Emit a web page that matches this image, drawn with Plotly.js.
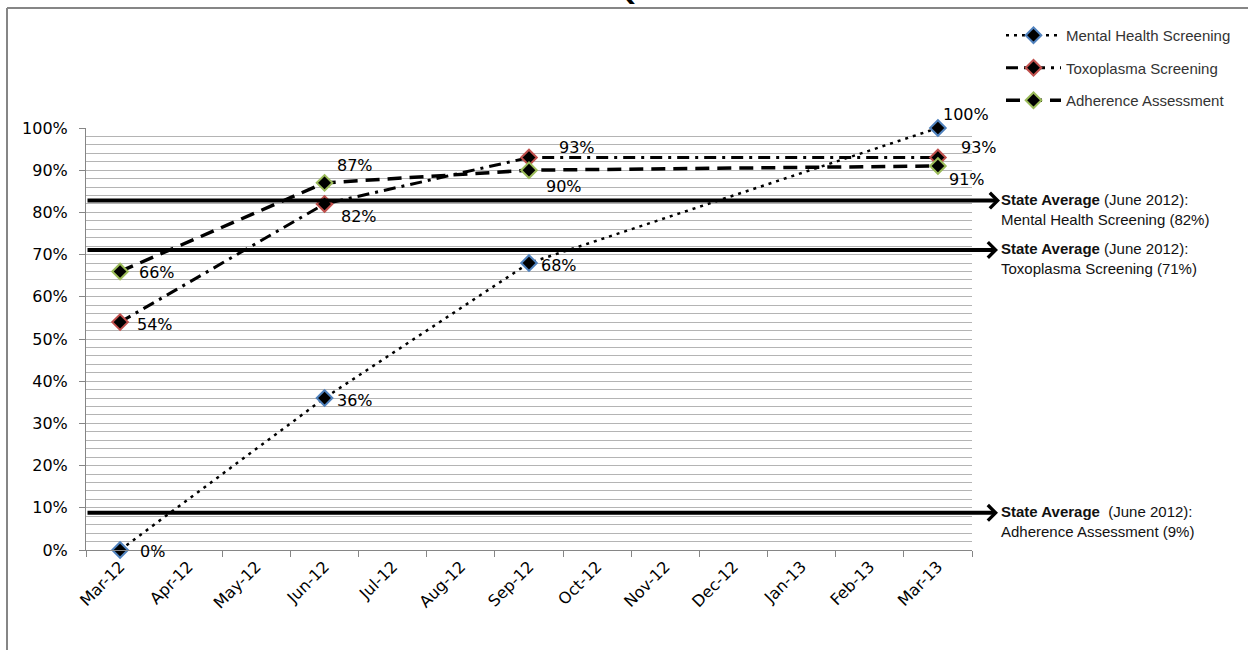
<!DOCTYPE html>
<html>
<head>
<meta charset="utf-8">
<script src="https://cdn.plot.ly/plotly-3.0.1.min.js"></script>
<style>html,body{margin:0;padding:0;background:#fff;}#chart{width:1248px;height:650px;}</style>
</head>
<body>
<div id="chart"></div>
<script>
// ---- data ----
const months = ['Mar-12','Apr-12','May-12','Jun-12','Jul-12','Aug-12','Sep-12','Oct-12','Nov-12','Dec-12','Jan-13','Feb-13','Mar-13'];
const obsMonths = ['Mar-12','Jun-12','Sep-12','Mar-13'];
const mentalHealth = [0, 36, 68, 100];
const toxoplasma = [54, 82, 93, 93];
const adherence = [66, 87, 90, 91];
const seriesNames = ['Mental Health Screening', 'Toxoplasma Screening', 'Adherence Assessment'];
const stateAvgMeasures = ['Mental Health Screening', 'Toxoplasma Screening', 'Adherence Assessment'];
const stateAvgValues = [82, 71, 9];          // label values
const stateAvgDrawnAt = [82.8, 71.1, 8.8];   // where the arrows sit in the picture
const yTickVals = [0,10,20,30,40,50,60,70,80,90,100];
const yTickText = yTickVals.map(v => v + '%');

// ---- styling ----
const seriesData = [mentalHealth, toxoplasma, adherence];
const outline = ['#4F81BD', '#C0504D', '#9BBB59'];
const dashes = ['3px,5px', '12px,6px,3px,6px', '14px,8px'];
const widths = [2.5, 3, 3.5];
// label offsets (px) per series/point
const labelShift = [
  [[18,-1],[10,-2],[10,-2],[3,14]],
  [[15,-2],[14,-13],[28,10],[21,10]],
  [[17,-1],[10,17],[15,-16],[9,-14]]
];

const traces = seriesData.map((vals, i) => ({
  type: 'scatter', mode: 'lines+markers',
  x: obsMonths, y: vals, name: seriesNames[i],
  legendgroup: 'g' + i,
  line: {color: '#000', width: widths[i], dash: dashes[i]},
  marker: {symbol: 'diamond', size: 12, color: '#000', line: {color: outline[i], width: 2}},
  cliponaxis: false, hoverinfo: 'skip'
}));

const annotations = [];
seriesData.forEach((vals, i) => {
  vals.forEach((v, j) => {
    annotations.push({
      x: obsMonths[j], y: v, xref: 'x', yref: 'y', text: v + '%', showarrow: false,
      xanchor: 'left', yanchor: 'middle', xshift: labelShift[i][j][0], yshift: labelShift[i][j][1],
      font: {family: 'DejaVu Sans', size: 16, color: '#000'}
    });
  });
});

const L = 86, W = 886, T = 128, H = 422;
const px2x = p => (p - L) / W;
const py2y = p => (T + H - p) / H;

stateAvgDrawnAt.forEach((v, i) => {
  const tip = i === 0 ? 1000 : 998;
  annotations.push({
    x: px2x(tip), xref: 'paper', y: v, yref: 'y', text: '', showarrow: true,
    ax: -(tip - L), ay: 0, axref: 'pixel', ayref: 'pixel',
    arrowhead: 4, arrowsize: 0.75, arrowwidth: 4, arrowcolor: '#000', standoff: 0
  });
  const gap = i === 2 ? '&nbsp;&nbsp;' : ' ';
  annotations.push({
    x: px2x(999), xref: 'paper', y: v, yref: 'y', showarrow: false,
    xanchor: 'left', yanchor: 'top', yshift: 12, align: 'left',
    text: '<b>State Average</b>' + gap + '(June 2012):<br>' + stateAvgMeasures[i] + ' (' + stateAvgValues[i] + '%)',
    font: {family: 'Liberation Sans', size: 15, color: '#111'}
  });
});

// cropped title fragment at the very top
annotations.push({
  x: px2x(626), xref: 'paper', y: py2y(-9), yref: 'paper', text: '<b>Q</b>', showarrow: false,
  xanchor: 'center', yanchor: 'middle', font: {family: 'DejaVu Sans', size: 28, color: '#000'}
});

const layout = {
  width: 1248, height: 650,
  margin: {l: L, r: 1248 - L - W, t: T, b: 650 - T - H, pad: 0},
  paper_bgcolor: '#fff', plot_bgcolor: '#fff',
  showlegend: true,
  legend: {
    x: px2x(1001), y: py2y(19), xanchor: 'left', yanchor: 'top',
    traceorder: 'grouped', tracegroupgap: 10, itemwidth: 55,
    font: {family: 'Liberation Sans', size: 15, color: '#333'},
    bgcolor: 'rgba(0,0,0,0)'
  },
  xaxis: {
    type: 'category', categoryorder: 'array', categoryarray: months,
    tickvals: months, ticktext: months,
    range: [-0.5, 12.5], tickson: 'boundaries',
    showgrid: false, zeroline: false,
    showline: true, linecolor: '#868686', linewidth: 1,
    ticks: 'outside', ticklen: 6, tickcolor: '#868686',
    tickangle: -45, tickfont: {family: 'DejaVu Sans', size: 16, color: '#000'},
    fixedrange: true
  },
  yaxis: {
    range: [0, 100], tickmode: 'array', tickvals: yTickVals, ticktext: yTickText,
    showgrid: true, gridcolor: '#B4B4B4', gridwidth: 1,
    minor: {dtick: 2, showgrid: true, gridcolor: '#B4B4B4', gridwidth: 1, ticks: ''},
    zeroline: false, showline: true, linecolor: '#868686', linewidth: 1,
    ticks: 'outside', ticklen: 6, tickcolor: '#868686', ticklabelstandoff: 8,
    tickfont: {family: 'DejaVu Sans', size: 16, color: '#000'},
    fixedrange: true
  },
  shapes: [
    {type: 'line', xref: 'paper', yref: 'paper', x0: px2x(7), x1: px2x(1260), y0: py2y(8), y1: py2y(8), line: {color: '#868686', width: 2}},
    {type: 'line', xref: 'paper', yref: 'paper', x0: px2x(7), x1: px2x(7), y0: py2y(8), y1: py2y(660), line: {color: '#868686', width: 2}}
  ],
  annotations: annotations
};

Plotly.newPlot('chart', traces, layout, {displayModeBar: false, staticPlot: true});
</script>
</body>
</html>
